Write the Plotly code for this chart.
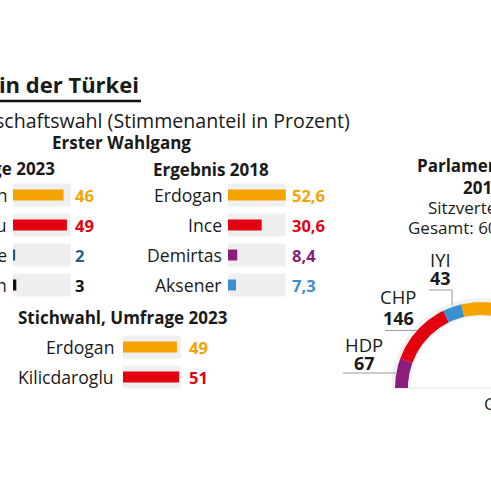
import numpy as np
import plotly.graph_objects as go

W, H = 491, 480

# ---------------- data ----------------
umfrage_names = ["Erdogan", "Kilicdaroglu", "Ince", "Ogan"]
umfrage_vals = [46, 49, 2, 3]
umfrage_labels = ["46", "49", "2", "3"]

ergebnis_names = ["Erdogan", "Ince", "Demirtas", "Aksener"]
ergebnis_vals = [52.6, 30.6, 8.4, 7.3]
ergebnis_labels = ["52,6", "30,6", "8,4", "7,3"]

stich_names = ["Erdogan", "Kilicdaroglu"]
stich_vals = [49, 51]
stich_labels = ["49", "51"]

parties = ["HDP", "CHP", "IYI", "AKP", "MHP"]
seats = [67, 146, 43, 295, 49]
seat_labels = ["67", "146", "43", "295", "49"]

# ---------------- style ----------------
ORANGE = "#f5a300"
RED = "#e3000f"
DBLUE = "#1f5d8d"
BLACK = "#111111"
PURPLE = "#8c1d7d"
BLUE = "#3a8fd0"
MHPC = "#7a4a2a"
GREY_BG = "#efefef"
TXT = "#1a1a1a"
FONT = "Open Sans"

umfrage_colors = [ORANGE, RED, DBLUE, BLACK]
ergebnis_colors = [ORANGE, RED, PURPLE, BLUE]
stich_colors = [ORANGE, RED]
party_colors = [PURPLE, RED, BLUE, ORANGE, MHPC]

bg_max = max(umfrage_vals + ergebnis_vals + stich_vals)


def px(x):
    return x / W


def py(y):
    return 1 - y / H


fig = go.Figure()
annotations = []

panels = [
    ("x", "y", umfrage_names, umfrage_vals, umfrage_labels, umfrage_colors, 4, 6),
    ("x2", "y2", ergebnis_names, ergebnis_vals, ergebnis_labels, ergebnis_colors, 6, 6),
    ("x3", "y3", stich_names, stich_vals, stich_labels, stich_colors, 8, 9),
]

for xa, ya, names, vals, labels, colors, vshift, lshift in panels:
    fig.add_trace(go.Bar(
        x=[bg_max] * len(names), y=names, orientation="h",
        marker=dict(color=GREY_BG, line=dict(width=0)), width=0.77,
        xaxis=xa, yaxis=ya, hoverinfo="skip", showlegend=False))
    fig.add_trace(go.Bar(
        x=vals, y=names, orientation="h",
        marker=dict(color=colors, line=dict(width=0)), width=0.37,
        xaxis=xa, yaxis=ya, hoverinfo="skip", showlegend=False))
    for n, lab, c in zip(names, labels, colors):
        annotations.append(dict(
            x=0, y=n, xref=xa, yref=ya, text=n, showarrow=False,
            xanchor="right", yanchor="middle", xshift=-lshift + 2,
            font=dict(family=FONT, size=17.6, color=TXT)))
        annotations.append(dict(
            x=bg_max, y=n, xref=xa, yref=ya, text="<b>%s</b>" % lab,
            showarrow=False, xanchor="left", yanchor="middle", xshift=vshift - 2,
            font=dict(family=FONT, size=16.5, color=c)))

# ---------------- semicircle (parliament) ----------------
R_PX = 86.0
CX, CY = 481.0, 388.0
r_in = 0.85

total = sum(seats)
cum = np.concatenate([[0], np.cumsum(seats)])
angles = 180 - cum / total * 180  # degrees, from left going clockwise


def ring(a0, a1, r0, r1, n=80):
    t = np.radians(np.linspace(a0, a1, n))
    xo, yo = r1 * np.cos(t), r1 * np.sin(t)
    xi, yi = r0 * np.cos(t[::-1]), r0 * np.sin(t[::-1])
    return np.concatenate([xo, xi, xo[:1]]), np.concatenate([yo, yi, yo[:1]])


# halo
hx, hy = ring(180, 0, r_in - 0.02, 1.045)
fig.add_trace(go.Scatter(x=hx, y=hy, fill="toself", fillcolor="#f1f1f1",
                         line=dict(width=0), mode="lines", xaxis="x4", yaxis="y4",
                         hoverinfo="skip", showlegend=False))
# baseline
fig.add_trace(go.Scatter(x=[-1.0, 2.0], y=[0, 0], mode="lines",
                         line=dict(color="#e6e6e6", width=1),
                         xaxis="x4", yaxis="y4", hoverinfo="skip", showlegend=False))

for i, (p, s, c) in enumerate(zip(parties, seats, party_colors)):
    sx, sy = ring(angles[i], angles[i + 1], r_in, 1.0)
    fig.add_trace(go.Scatter(x=sx, y=sy, fill="toself", fillcolor=c,
                             line=dict(width=0), mode="lines",
                             xaxis="x4", yaxis="y4", hoverinfo="skip",
                             showlegend=False))

mid = np.radians((angles[:-1] + angles[1:]) / 2)
mx, my = np.cos(mid), np.sin(mid)


def u(xpix):
    return (xpix - CX) / R_PX


def v(ypix):
    return (CY - ypix) / R_PX


LINE = dict(color="#9a9a9a", width=1)
# HDP leader
fig.add_trace(go.Scatter(x=[mx[0], u(343)], y=[my[0], my[0]], mode="lines", line=LINE,
                         xaxis="x4", yaxis="y4", hoverinfo="skip", showlegend=False))
# CHP leader
fig.add_trace(go.Scatter(x=[mx[1], u(385)], y=[my[1], my[1]], mode="lines", line=LINE,
                         xaxis="x4", yaxis="y4", hoverinfo="skip", showlegend=False))
# IYI leader
fig.add_trace(go.Scatter(x=[mx[2], mx[2], u(429)], y=[my[2] + 0.02, v(290), v(290)],
                         mode="lines", line=LINE,
                         xaxis="x4", yaxis="y4", hoverinfo="skip", showlegend=False))

label_pos = {"HDP": (364, 344, 363), "CHP": (398, 296, 318), "IYI": (440, 259, 278)}
for p, lab in zip(parties, seat_labels):
    if p in label_pos:
        lx, ly1, ly2 = label_pos[p]
        annotations.append(dict(x=u(lx), y=v(ly1), xref="x4", yref="y4", text=p,
                                showarrow=False, xanchor="center", yanchor="middle",
                                font=dict(family=FONT, size=18.5, color=TXT)))
        annotations.append(dict(x=u(lx), y=v(ly2), xref="x4", yref="y4",
                                text="<b>%s</b>" % lab, showarrow=False,
                                xanchor="center", yanchor="middle",
                                font=dict(family=FONT, size=18, color=TXT)))

# ---------------- texts ----------------
def txt(x, y, t, size, anchor="left", bold=False, color=TXT):
    annotations.append(dict(x=px(x), y=py(y), xref="paper", yref="paper",
                            text=("<b>%s</b>" % t) if bold else t, showarrow=False,
                            xanchor=anchor, yanchor="middle",
                            font=dict(family=FONT, size=size, color=color)))


txt(141, 84, "Wahlen in der Türkei", 22, "right", True)
txt(352, 120, "Präsidentschaftswahl (Stimmenanteil in Prozent)", 19.6, "right")
txt(121.5, 142, "Erster Wahlgang", 17, "center", True)
txt(57, 168, "Umfrage 2023", 17, "right", True)
txt(151, 169, "Ergebnis 2018", 17, "left", True)
txt(16, 317, "Stichwahl, Umfrage 2023", 17, "left", True)
txt(415, 165, "Parlamentswahl", 17, "left", True)
txt(461, 187, "2018", 17, "left", True)
txt(426, 207, "Sitzverteilung", 17, "left")
txt(406, 227, "Gesamt: 600 Sitze", 17, "left")
txt(482, 403, "Grafik", 17, "left")

shapes = [dict(type="line", xref="paper", yref="paper", x0=0, x1=px(141),
               y0=py(101), y1=py(101), line=dict(color=BLACK, width=2.5))]

hidden = dict(visible=False, fixedrange=True)
fig.update_layout(
    width=W, height=H, margin=dict(l=0, r=0, t=0, b=0),
    paper_bgcolor="white", plot_bgcolor="rgba(0,0,0,0)",
    barmode="overlay", showlegend=False,
    annotations=annotations, shapes=shapes,
    xaxis=dict(domain=[px(13), px(13 + bg_max * 1.1)], range=[0, bg_max], **hidden),
    yaxis=dict(domain=[py(300), py(180)], range=[3.5, -0.5], type="category", **hidden),
    xaxis2=dict(domain=[px(228), px(228 + bg_max * 1.1)], range=[0, bg_max], anchor="y2", **hidden),
    yaxis2=dict(domain=[py(300), py(180)], range=[3.5, -0.5], type="category", anchor="x2", **hidden),
    xaxis3=dict(domain=[px(123), px(123 + bg_max * 1.1)], range=[0, bg_max], anchor="y3", **hidden),
    yaxis3=dict(domain=[py(392), py(332)], range=[1.5, -0.5], type="category", anchor="x3", **hidden),
    xaxis4=dict(domain=[0, 1], range=[u(0), u(W)], anchor="y4", **hidden),
    yaxis4=dict(domain=[0, 1], range=[v(H), v(0)], anchor="x4", **hidden),
)

fig.write_html("out.html", config={"displayModeBar": False},
               post_script="document.body.style.margin='0';document.body.style.overflow='hidden';")
